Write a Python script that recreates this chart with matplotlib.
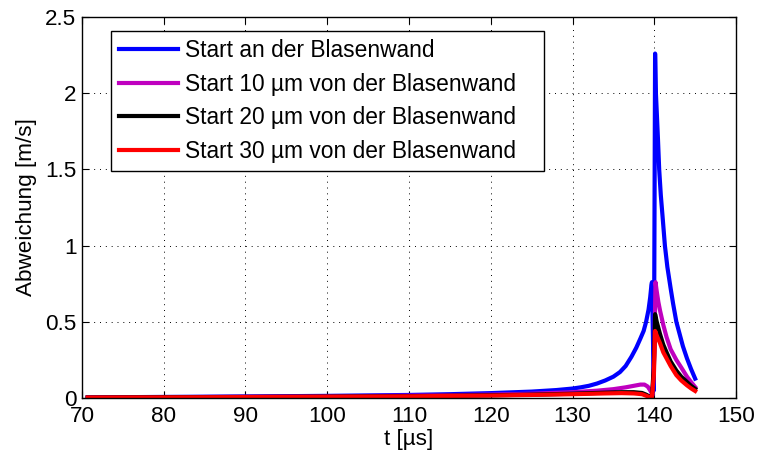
import matplotlib
matplotlib.use("Agg")
import matplotlib.pyplot as plt

plt.rcParams['font.family'] = ['Liberation Sans', 'DejaVu Sans']

labels = ["Start an der Blasenwand",
          "Start 10 \u00b5m von der Blasenwand",
          "Start 20 \u00b5m von der Blasenwand",
          "Start 30 \u00b5m von der Blasenwand"]
colors = ["#0000ff", "#bf00bf", "#000000", "#ff0000"]

t_blue = [70.7, 80, 90, 100, 110, 115, 120, 125, 128, 130, 131, 132, 133, 134, 135, 135.8,
          136.5, 137.2, 137.8, 138.3, 138.7, 139.0, 139.3, 139.5, 139.65, 139.72, 139.95,
          140.1, 140.2, 140.3, 140.45, 140.6, 140.8, 141.0, 141.3, 141.6, 142.0, 142.3,
          142.7, 143.1, 143.5, 144.0, 144.5, 145.0]
v_blue = [0.004, 0.007, 0.010, 0.014, 0.020, 0.025, 0.032, 0.042, 0.052, 0.062, 0.07,
          0.08, 0.095, 0.115, 0.14, 0.17, 0.21, 0.27, 0.33, 0.39, 0.44, 0.5, 0.58, 0.66,
          0.74, 0.76, 0.05, 2.26, 2.0, 1.88, 1.7, 1.5, 1.33, 1.2, 1.0, 0.86, 0.72, 0.62,
          0.5, 0.42, 0.34, 0.26, 0.19, 0.127]

t_mag = [70.7, 80, 90, 100, 110, 120, 125, 130, 133, 135, 136.5, 137.5, 138.3, 138.8,
         139.2, 139.5, 139.8, 140.0, 140.15, 140.3, 140.5, 140.7, 141.1, 141.5, 142.0,
         142.7, 143.3, 144.0, 144.5, 145.0]
v_mag = [0.003, 0.005, 0.008, 0.011, 0.015, 0.022, 0.028, 0.038, 0.048, 0.058, 0.07,
         0.08, 0.088, 0.088, 0.075, 0.05, 0.02, 0.3, 0.76, 0.70, 0.63, 0.575, 0.48, 0.40,
         0.32, 0.25, 0.20, 0.14, 0.105, 0.072]

t_blk = [70.7, 80, 90, 100, 110, 120, 125, 130, 134, 136, 137.5, 138.5, 139.0, 139.4,
         139.7, 139.95, 140.1, 140.3, 140.5, 140.7, 141.1, 141.5, 142.0, 142.7, 143.3,
         144.0, 144.5, 145.0]
v_blk = [0.003, 0.005, 0.007, 0.009, 0.012, 0.018, 0.022, 0.028, 0.035, 0.038, 0.038,
         0.033, 0.022, 0.01, 0.005, 0.2, 0.55, 0.50, 0.46, 0.42, 0.35, 0.30, 0.24, 0.18,
         0.14, 0.105, 0.08, 0.06]

t_red = t_blk
v_red = [0.003, 0.004, 0.006, 0.008, 0.011, 0.016, 0.02, 0.025, 0.03, 0.032, 0.03,
         0.025, 0.015, 0.006, 0.003, 0.15, 0.44, 0.41, 0.385, 0.36, 0.30, 0.26, 0.21,
         0.15, 0.115, 0.083, 0.063, 0.046]

xticks = [70, 80, 90, 100, 110, 120, 130, 140, 150]
yticks = [0, 0.5, 1, 1.5, 2, 2.5]
ytick_labels = ["0", "0.5", "1", "1.5", "2", "2.5"]

fig = plt.figure(figsize=(7.57, 4.59), dpi=100)
ax = fig.add_axes([0.1083, 0.1329, 0.9723 - 0.1083, 0.963 - 0.1329])

series = [(t_blue, v_blue), (t_mag, v_mag), (t_blk, v_blk), (t_red, v_red)]
for (t, v), c, lab in zip(series, colors, labels):
    ax.plot(t, v, color=c, lw=3.0, label=lab, solid_joinstyle='round')

ax.set_xlim(70, 150)
ax.set_ylim(0, 2.5)
ax.set_xticks(xticks)
ax.set_xticklabels([str(x) for x in xticks])
ax.set_yticks(yticks)
ax.set_yticklabels(ytick_labels)
ax.tick_params(direction='in', top=True, right=True, labelsize=16.2, length=5,
               width=0.8, colors='black')
ax.tick_params(axis='x', pad=5.5)
ax.tick_params(axis='y', pad=4)
ax.grid(True, linestyle=(0, (1, 5)), color='black', linewidth=0.7)
for s in ax.spines.values():
    s.set_linewidth(1.0)

ax.set_xlabel("t [\u00b5s]", fontsize=16.2, labelpad=2)
ax.set_ylabel("Abweichung [m/s]", fontsize=16.2, labelpad=6)

leg = ax.legend(loc='upper left', bbox_to_anchor=(0.0443, 0.593, 0.662, 0.37),
                mode='expand', fontsize=16.4,
                frameon=True, fancybox=False, shadow=False, borderaxespad=0,
                handlelength=2.6, handletextpad=0.3, labelspacing=0.47,
                borderpad=0.35)
leg.get_frame().set_edgecolor('black')
leg.get_frame().set_linewidth(1.0)
leg.get_frame().set_alpha(1)

fig.savefig("out.png", dpi=100)
